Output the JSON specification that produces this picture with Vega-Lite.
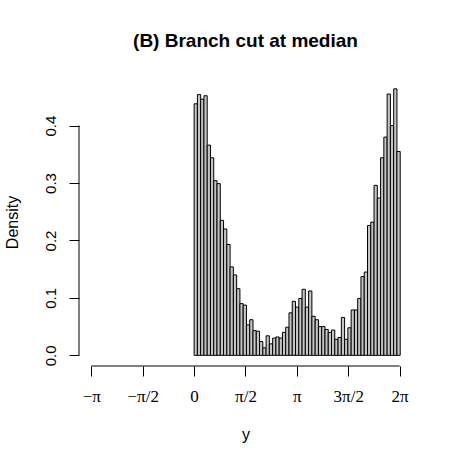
{
  "$schema": "https://vega.github.io/schema/vega-lite/v6.json",
  "width": 333,
  "height": 288,
  "autosize": {"type": "none"},
  "padding": {"left": 79, "top": 78, "right": 41, "bottom": 99},
  "background": "white",
  "config": {"view": {"stroke": null}, "font": "Liberation Sans"},
  "title": {"text": "(B) Branch cut at median", "fontSize": 19, "fontWeight": "bold", "font": "Liberation Sans", "anchor": "middle", "baseline": "alphabetic", "offset": 12, "color": "black"},
  "layer": [
    {
      "data": {"values": [
        {"lo": 0.0, "hi": 0.1, "density": 0.438},
        {"lo": 0.1, "hi": 0.2, "density": 0.454},
        {"lo": 0.2, "hi": 0.3, "density": 0.446},
        {"lo": 0.3, "hi": 0.4, "density": 0.452},
        {"lo": 0.4, "hi": 0.5, "density": 0.366},
        {"lo": 0.5, "hi": 0.6, "density": 0.344},
        {"lo": 0.6, "hi": 0.7, "density": 0.304},
        {"lo": 0.7, "hi": 0.8, "density": 0.299},
        {"lo": 0.8, "hi": 0.9, "density": 0.235},
        {"lo": 0.9, "hi": 1.0, "density": 0.220},
        {"lo": 1.0, "hi": 1.1, "density": 0.193},
        {"lo": 1.1, "hi": 1.2, "density": 0.154},
        {"lo": 1.2, "hi": 1.3, "density": 0.140},
        {"lo": 1.3, "hi": 1.4, "density": 0.116},
        {"lo": 1.4, "hi": 1.5, "density": 0.090},
        {"lo": 1.5, "hi": 1.6, "density": 0.0875},
        {"lo": 1.6, "hi": 1.7, "density": 0.053},
        {"lo": 1.7, "hi": 1.8, "density": 0.062},
        {"lo": 1.8, "hi": 1.9, "density": 0.043},
        {"lo": 1.9, "hi": 2.0, "density": 0.042},
        {"lo": 2.0, "hi": 2.1, "density": 0.024},
        {"lo": 2.1, "hi": 2.2, "density": 0.013},
        {"lo": 2.2, "hi": 2.3, "density": 0.034},
        {"lo": 2.3, "hi": 2.4, "density": 0.020},
        {"lo": 2.4, "hi": 2.5, "density": 0.030},
        {"lo": 2.5, "hi": 2.6, "density": 0.032},
        {"lo": 2.6, "hi": 2.7, "density": 0.030},
        {"lo": 2.7, "hi": 2.8, "density": 0.040},
        {"lo": 2.8, "hi": 2.9, "density": 0.049},
        {"lo": 2.9, "hi": 3.0, "density": 0.074},
        {"lo": 3.0, "hi": 3.1, "density": 0.094},
        {"lo": 3.1, "hi": 3.2, "density": 0.084},
        {"lo": 3.2, "hi": 3.3, "density": 0.099},
        {"lo": 3.3, "hi": 3.4, "density": 0.115},
        {"lo": 3.4, "hi": 3.5, "density": 0.084},
        {"lo": 3.5, "hi": 3.6, "density": 0.112},
        {"lo": 3.6, "hi": 3.7, "density": 0.068},
        {"lo": 3.7, "hi": 3.8, "density": 0.062},
        {"lo": 3.8, "hi": 3.9, "density": 0.050},
        {"lo": 3.9, "hi": 4.0, "density": 0.050},
        {"lo": 4.0, "hi": 4.1, "density": 0.045},
        {"lo": 4.1, "hi": 4.2, "density": 0.040},
        {"lo": 4.2, "hi": 4.3, "density": 0.044},
        {"lo": 4.3, "hi": 4.4, "density": 0.028},
        {"lo": 4.4, "hi": 4.5, "density": 0.031},
        {"lo": 4.5, "hi": 4.6, "density": 0.066},
        {"lo": 4.6, "hi": 4.7, "density": 0.028},
        {"lo": 4.7, "hi": 4.8, "density": 0.048},
        {"lo": 4.8, "hi": 4.9, "density": 0.079},
        {"lo": 4.9, "hi": 5.0, "density": 0.079},
        {"lo": 5.0, "hi": 5.1, "density": 0.099},
        {"lo": 5.1, "hi": 5.2, "density": 0.137},
        {"lo": 5.2, "hi": 5.3, "density": 0.145},
        {"lo": 5.3, "hi": 5.4, "density": 0.226},
        {"lo": 5.4, "hi": 5.5, "density": 0.232},
        {"lo": 5.5, "hi": 5.6, "density": 0.296},
        {"lo": 5.6, "hi": 5.7, "density": 0.274},
        {"lo": 5.7, "hi": 5.8, "density": 0.344},
        {"lo": 5.8, "hi": 5.9, "density": 0.380},
        {"lo": 5.9, "hi": 6.0, "density": 0.455},
        {"lo": 6.0, "hi": 6.1, "density": 0.400},
        {"lo": 6.1, "hi": 6.2, "density": 0.464},
        {"lo": 6.2, "hi": 6.3, "density": 0.355}
      ]},
      "mark": {"type": "rect", "fill": "#c4c4c4", "stroke": "black", "strokeWidth": 1},
      "encoding": {
        "x": {
          "field": "lo", "type": "quantitative",
          "scale": {"domain": [-3.5186, 6.6602], "nice": false, "zero": false},
          "axis": {
            "values": [-3.14159265, -1.57079633, 0, 1.57079633, 3.14159265, 4.71238898, 6.28318531],
            "labelExpr": "['−π','−π/2','0','π/2','π','3π/2','2π'][round(datum.value*2/PI)+2]",
            "domain": false, "grid": false,
            "tickColor": "black", "tickSize": 10, "tickWidth": 1,
            "labelFont": "Liberation Serif", "labelFontSize": 17, "labelColor": "black",
            "labelPadding": 12, "labelFlush": false, "labelOverlap": false,
            "title": "y", "titleFont": "Liberation Sans", "titleFontSize": 16, "titleFontWeight": "normal", "titleColor": "black", "titlePadding": 22
          }
        },
        "x2": {"field": "hi"},
        "y": {
          "field": "density", "type": "quantitative",
          "scale": {"domain": [-0.01857, 0.4829], "nice": false, "zero": false},
          "axis": {
            "values": [0, 0.1, 0.2, 0.3, 0.4], "format": ".1f",
            "domain": false, "grid": false,
            "tickColor": "black", "tickSize": 10, "tickWidth": 1,
            "labelAngle": -90, "labelAlign": "center", "labelBaseline": "bottom",
            "labelFont": "Liberation Sans", "labelFontSize": 15, "labelColor": "black", "labelPadding": 11,
            "title": "Density", "titleFont": "Liberation Sans", "titleFontSize": 16, "titleFontWeight": "normal", "titleColor": "black", "titlePadding": 23
          }
        },
        "y2": {"datum": 0}
      }
    },
    {
      "data": {"values": [{}]},
      "mark": {"type": "rule", "color": "black", "strokeWidth": 1},
      "encoding": {
        "x": {"datum": -3.5186, "type": "quantitative"},
        "y": {"datum": 0, "type": "quantitative"},
        "y2": {"datum": 0.4}
      }
    },
    {
      "data": {"values": [{}]},
      "mark": {"type": "rule", "color": "black", "strokeWidth": 1},
      "encoding": {
        "y": {"datum": -0.01857, "type": "quantitative"},
        "x": {"datum": -3.14159265, "type": "quantitative"},
        "x2": {"datum": 6.28318531}
      }
    }
  ]
}
